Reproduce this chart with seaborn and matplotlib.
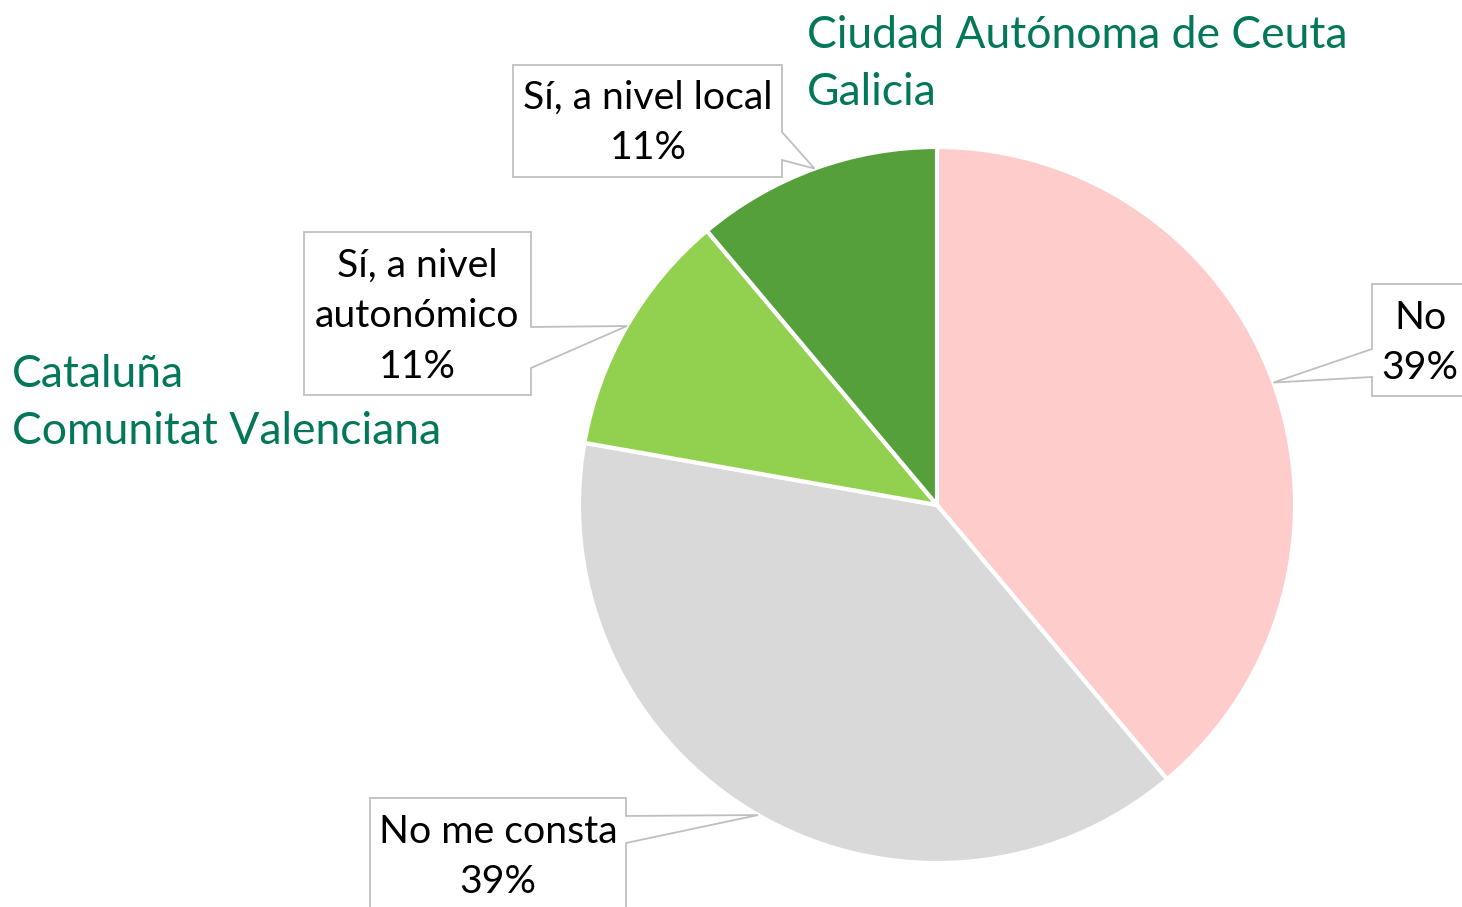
import numpy as np
import seaborn as sns
import matplotlib.pyplot as plt
from matplotlib.patches import Polygon

# datos del gráfico
categorias = ['No', 'No me consta', 'Sí, a nivel autonómico', 'Sí, a nivel local']
etiquetas = ['No', 'No me consta', 'Sí, a nivel\nautonómico', 'Sí, a nivel local']
valores = [7, 7, 2, 2]
colores = ['#FFCCCC', '#D9D9D9', '#92D050', '#55A03A']
notas_arriba = ['Ciudad Autónoma de Ceuta', 'Galicia']
notas_izquierda = ['Cataluña', 'Comunitat Valenciana']

W, H = 1462, 907

sns.set_theme(style='white')
plt.rcParams['font.family'] = ['Lato', 'DejaVu Sans']


def fy(y):
    # coordenada y en píxeles desde arriba -> datos
    return H - y


def callout(ax, x0, y0, x1, y1, side, w1, w2, anchor):
    # caja con pico (estilo etiqueta de Excel)
    if side == 'right':
        pts = [(x0, y0), (x1, y0), (x1, w1), anchor, (x1, w2), (x1, y1), (x0, y1)]
    else:
        pts = [(x1, y0), (x1, y1), (x0, y1), (x0, w2), anchor, (x0, w1), (x0, y0)]
    pts = [(px, fy(py)) for px, py in pts]
    ax.add_patch(Polygon(pts, closed=True, facecolor='white', edgecolor='#BFBFBF',
                         linewidth=1.3, zorder=3))


fig = plt.figure(figsize=(W / 100, H / 100), dpi=100)
ax = fig.add_axes([0, 0, 1, 1])

centro = (937, fy(505))
radio = 358
wedges, _ = ax.pie(valores, colors=colores, startangle=90, counterclock=False,
                   center=centro, radius=radio,
                   wedgeprops=dict(edgecolor='white', linewidth=3))
ax.set_xlim(0, W)
ax.set_ylim(0, H)
ax.set_aspect('equal')
ax.axis('off')

# puntos de anclaje en el borde de cada sector
anclas = []
for w in wedges:
    ang = np.deg2rad((w.theta1 + w.theta2) / 2)
    anclas.append((centro[0] + radio * np.cos(ang), H - (centro[1] + radio * np.sin(ang))))

pct = [f'{round(v / sum(valores) * 100)}%' for v in valores]

# cajas: (x0, y0, x1, y1, lado, pico1, pico2, centro texto)
cajas = [
    (1372, 284, 1480, 396, 'left', 349, 377, (1420, 343)),
    (370, 798, 626, 930, 'right', 816, 843, (498, 857)),
    (304, 232, 531, 395, 'right', 327, 368, (417, 316)),
    (513, 65, 782, 177, 'right', 132, 160, (648, 123)),
]

for i, (x0, y0, x1, y1, lado, p1, p2, tc) in enumerate(cajas):
    callout(ax, x0, y0, x1, y1, lado, p1, p2, anclas[i])
    ax.text(tc[0], fy(tc[1]), f'{etiquetas[i]}\n{pct[i]}', ha='center', va='center',
            multialignment='center', fontsize=28.3, color='black', linespacing=1.5, zorder=4)

# notas en verde, una línea cada vez
verde = '#03775A'
for j, t in enumerate(notas_arriba):
    ax.text(807, fy(48 + 57 * j), t, ha='left', va='baseline', fontsize=32, color=verde)
for j, t in enumerate(notas_izquierda):
    ax.text(12, fy(387 + 57 * j), t, ha='left', va='baseline', fontsize=32, color=verde)

fig.savefig('out.png', dpi=100)
